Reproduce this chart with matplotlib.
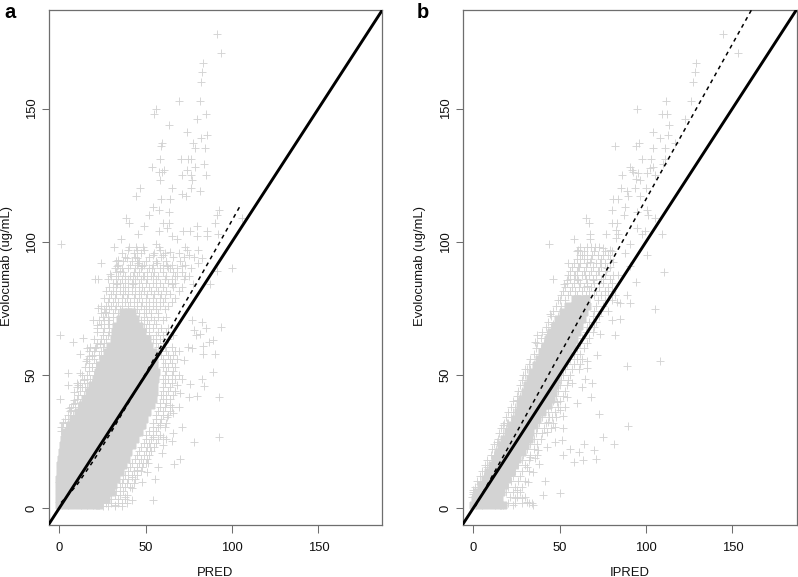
import matplotlib
matplotlib.use('Agg')
import matplotlib.pyplot as plt

plt.rcParams['font.family'] = ['Liberation Sans', 'DejaVu Sans']

ticks = [0, 50, 100, 150]
identity = [-10, 200]

# dashed smooth lines
dash_a_x = [1, 10, 20, 30, 40, 50, 60, 70, 80, 90, 105]
dash_a_y = [2, 8.5, 18, 28.5, 39.5, 50.5, 62, 74, 85, 96.5, 113.8]
dash_b_x = [1, 20, 43.5, 70, 100, 130, 161]
dash_b_y = [0.5, 22.5, 50, 81, 116, 151, 187]

# dense centre of each cloud: one row per y level
core_a_y = [1, 3.5, 6, 8.5, 11, 13.5, 16, 18.5, 21, 23.5, 26, 28.5, 31, 33.5, 36, 38.5, 41, 43.5, 46, 48.5, 51, 53.5, 56, 58.5, 61, 63.5, 66, 68.5, 71, 73.5]
core_a_x = [
    [0, 3.5, 7, 10.5, 14, 17.5, 21, 23],
    [0, 3.5, 7, 10.5, 14, 17.5, 21, 24.5, 27],
    [0, 3.5, 7, 10.5, 14, 17.5, 21, 24.5, 28, 30],
    [0, 3.5, 7, 10.5, 14, 17.5, 21, 24.5, 28, 31],
    [0, 3.5, 7, 10.5, 14, 17.5, 21, 24.5, 28, 31, 33],
    [0.3, 3.5, 7, 10.5, 14, 17.5, 21, 24.5, 28, 31.5, 35],
    [0.5, 4, 7.5, 11, 14.5, 18, 21.5, 25, 28.5, 32, 35.5, 37],
    [1, 4.5, 8, 11.5, 15, 18.5, 22, 25.5, 29, 32.5, 36, 38.5],
    [1.5, 5, 8.5, 12, 15.5, 19, 22.5, 26, 29.5, 33, 36.5, 40],
    [2, 5.5, 9, 12.5, 16, 19.5, 23, 26.5, 30, 33.5, 37, 40.5, 42],
    [2.5, 6, 9.5, 13, 16.5, 20, 23.5, 27, 30.5, 34, 37.5, 41, 44],
    [3.5, 7, 10, 13.5, 17, 20.5, 24, 27.5, 31, 34.5, 38, 41.5, 45, 46],
    [6, 8.5, 12, 15.5, 19, 22.5, 26, 29.5, 33, 36.5, 40, 43.5, 47, 48],
    [8, 10.5, 14, 17.5, 21, 24.5, 28, 31.5, 35, 38.5, 42, 45.5, 49],
    [11, 13.5, 17, 20.5, 24, 27.5, 31, 34.5, 38, 41.5, 45, 48.5, 51],
    [13, 15.5, 19, 22.5, 26, 29.5, 33, 36.5, 40, 43.5, 47, 50.5, 53],
    [15, 16.5, 20, 23.5, 27, 30.5, 34, 37.5, 41, 44.5, 48, 51.5, 54],
    [17, 18.5, 22, 25.5, 29, 32.5, 36, 39.5, 43, 46.5, 50, 53.5, 55],
    [19, 23, 26.5, 30, 33.5, 37, 40.5, 44, 47.5, 51, 54.5],
    [21, 25, 28.5, 32, 35.5, 39, 42.5, 46, 49.5, 53, 55.5],
    [22.5, 26, 29.5, 33, 36.5, 40, 43.5, 47, 50.5, 54, 56],
    [23.5, 27, 30.5, 34, 37.5, 41, 44.5, 48, 51.5, 55],
    [25.5, 29, 32.5, 36, 39.5, 43, 46.5, 50, 53.5, 55],
    [27.5, 31, 34.5, 38, 41.5, 45, 48.5, 52, 54],
    [29.5, 33, 36.5, 40, 43.5, 47, 50.5, 52],
    [31.5, 35, 38.5, 42, 45.5, 49, 50.5],
    [32, 36, 39.5, 43, 46.5, 48],
    [33, 37, 40.5, 44, 46],
    [35, 39, 42.5, 44],
    [37, 40, 42],
]
core_b_y = [1, 3.5, 6, 8.5, 11, 13.5, 16, 18.5, 21, 23.5, 26, 28.5, 31, 33.5, 36, 38.5, 41, 43.5, 46, 48.5, 51, 53.5, 56, 58.5, 61, 63.5, 66, 68.5, 71, 73.5, 76, 78.5]
core_b_x = [
    [0, 3.5, 7, 10.5, 14, 17],
    [1, 4.5, 8, 11.5, 15],
    [2, 5.5, 9, 12.5, 16],
    [4.5, 8, 11.5, 15, 17.5],
    [6.5, 10, 13.5, 17, 19.5],
    [8.5, 12, 15.5, 19, 21.5],
    [10.5, 14, 17.5, 21, 23.5],
    [12.5, 16, 19.5, 23, 25.5],
    [14, 17.5, 21, 24.5, 28],
    [16, 19.5, 23, 26.5, 30],
    [18, 21.5, 25, 28.5, 32],
    [20, 23.5, 27, 30.5, 33],
    [22, 25.5, 29, 32.5, 35],
    [24, 27.5, 31, 34.5, 37],
    [26, 29.5, 33, 36.5, 40],
    [27, 30.5, 34, 37.5, 41, 43],
    [28, 31.5, 35, 38.5, 42, 45],
    [30, 33.5, 37, 40.5, 44, 46],
    [31, 34.5, 38, 41.5, 45, 47],
    [33, 36.5, 40, 43.5, 47, 48],
    [34, 37.5, 41, 44.5, 48, 49],
    [36, 39.5, 43, 46.5, 50, 51],
    [38, 41.5, 45, 48.5, 52, 53],
    [40, 43.5, 47, 50.5, 54, 55],
    [41.5, 44.5, 48, 51.5, 55, 57],
    [43, 46.5, 50, 53.5, 57, 58],
    [45, 47.5, 51, 54.5, 58, 60],
    [47, 49.5, 53, 56.5, 60, 61],
    [49, 51.5, 55, 58.5, 62, 63],
    [52, 55, 58, 61, 64],
    [55, 58, 61, 64, 66],
    [59, 62, 65],
]

# thinner rows of crosses round the centre
fringe_a_y = [97, 95.6, 94.2, 92.8, 91.4, 90, 88.6, 87.2, 85.8, 84.4, 83, 81.6, 80.2, 78.8, 77.4, 76, 74.6, 73.2, 71.8, 70.4, 69, 67.6, 66.2, 64.8, 63.4, 62, 60.5, 59, 57.5, 56, 54.5, 53, 51.5, 50, 48.5, 47, 45.5, 44, 42.5, 41, 39.5, 38, 36.5, 35, 33.5, 32, 30.5, 29, 27.5, 26, 24.5, 23, 21.5, 20, 18.5, 17, 15.5, 14, 12.5, 11, 9.5, 8, 6.5, 5, 3.5, 2, 0.8]
fringe_a_x = [
    [40, 45, 49, 58, 74],
    [36, 43, 47, 55, 61, 69],
    [38, 44, 52, 59, 66, 72, 78],
    [33, 37, 42, 46, 50, 56, 62, 70],
    [34, 41, 45, 49, 54, 60, 65, 73],
    [32, 36, 40, 44, 47, 52, 58, 63, 68, 76],
    [33, 37, 43, 46, 51, 55, 60, 66, 71],
    [30, 34, 38, 41, 45, 49, 53, 57, 62, 68, 75],
    [28, 33, 36, 40, 44, 47, 51, 56, 61, 65, 72],
    [31, 35, 38, 42, 46, 50, 54, 58, 63, 67],
    [29, 33, 37, 40, 44, 48, 52, 56, 60, 66, 71],
    [27, 31, 35, 38, 42, 46, 49, 53, 57, 62, 69],
    [30, 33, 37, 40, 44, 47, 51, 55, 59, 64],
    [26, 29, 32, 36, 39, 43, 46, 50, 54, 58, 61, 67],
    [28, 31, 34, 38, 41, 45, 48, 52, 56, 60, 65],
    [24, 27, 30, 33, 36, 40, 43, 47, 50, 54, 58, 63],
    [26, 29, 32, 35, 45, 49, 52, 56, 61],
    [24, 27, 31, 34, 46, 50, 53, 57],
    [25, 28, 31, 49, 53, 57, 62],
    [23, 26, 29, 47, 51, 55, 60],
    [24, 28, 31, 49, 52, 56],
    [22, 26, 29, 50, 54, 59, 63],
    [22, 25, 29, 52, 57, 62],
    [25, 28, 52, 56, 60, 66],
    [20, 24, 27, 54, 58, 63],
    [22, 26, 52, 56, 60],
    [18, 21, 25, 29, 57, 61, 65],
    [17, 20, 24, 28, 58, 62, 67],
    [19, 23, 27, 59, 63, 66],
    [16, 20, 25, 60, 64, 68],
    [17, 21, 61, 65],
    [15, 19, 23, 60, 63, 67],
    [17, 21, 62, 66],
    [13, 16, 20, 61, 65, 69],
    [14, 18, 60, 63, 67],
    [12, 16, 19, 61, 65],
    [10, 15, 60, 64],
    [12, 16, 60, 63, 67],
    [11, 14, 59, 62, 66],
    [10, 13, 60, 64],
    [9, 12, 58, 62],
    [7, 11, 58, 61, 65],
    [6, 9, 57, 60, 64],
    [5, 8, 56, 60, 63],
    [3, 6, 56, 59],
    [2, 5, 54, 58, 62],
    [1.5, 4, 54, 57, 61],
    [1, 3, 52, 56],
    [50, 54, 58],
    [50, 53, 57, 62],
    [49, 52, 56],
    [47, 51, 55],
    [46, 50, 53],
    [45, 49, 52],
    [44, 47, 51],
    [42, 46, 50],
    [41, 45, 48],
    [40, 43, 47],
    [38, 42, 45],
    [37, 40, 44],
    [36, 39, 43],
    [35, 38, 41],
    [33, 37],
    [32, 35, 39],
    [30, 34, 38],
    [27, 30, 34, 39],
    [25, 28, 32, 36],
]
fringe_b_y = [98, 96.5, 95, 93.5, 92, 90.5, 89, 87.5, 86, 84.5, 83, 81.5, 80, 78, 76, 74, 72, 70, 68, 66, 64, 62, 60, 58, 56, 54, 52, 50, 48, 46, 44, 42, 40, 38, 36, 34, 32, 30, 28, 26, 24, 22, 20, 18, 16, 14, 12, 10, 8, 6, 4, 2]
fringe_b_x = [
    [62, 68, 73],
    [60, 64, 70, 76, 80],
    [62, 66, 72, 78],
    [60, 64, 68, 74, 79],
    [58, 62, 66, 71, 76],
    [57, 61, 65, 69, 74, 79],
    [56, 60, 64, 68, 73, 77],
    [55, 59, 63, 67, 71, 76, 81],
    [56, 60, 65, 69, 74, 79],
    [54, 58, 62, 66, 70, 75, 80],
    [53, 57, 61, 64, 68, 73, 78],
    [52, 56, 59, 63, 67, 71, 76, 80],
    [51, 55, 60, 65, 70, 74, 78, 82],
    [49, 53, 72, 76, 80],
    [48, 51, 71, 75],
    [46, 50, 70, 74, 78],
    [45, 49, 69, 73],
    [43, 47, 67, 71],
    [42, 45, 66, 70],
    [40, 43, 65, 69],
    [39, 42, 63, 67],
    [37, 41, 62, 66],
    [36, 39, 60, 64],
    [35, 38, 58, 62],
    [33, 36, 56, 60, 63],
    [32, 35, 54, 58, 62],
    [30, 33, 53, 57, 61],
    [29, 32, 52, 56],
    [28, 31, 51, 55],
    [27, 30, 50, 54],
    [26, 28, 49, 53],
    [25, 27, 48, 52],
    [23, 26, 46, 50],
    [22, 24, 45, 49, 53],
    [20, 23, 43, 47],
    [19, 22, 40, 44, 48],
    [18, 20, 38, 42, 46],
    [16, 19, 37, 41, 45],
    [15, 17, 36, 40],
    [14, 16, 35, 39],
    [12, 15, 33, 37],
    [11, 13, 31, 35],
    [10, 12, 29, 33, 37],
    [8, 11, 28, 32],
    [7, 9, 26, 30],
    [5, 8, 24, 28, 32],
    [4, 6, 23, 27],
    [2, 5, 22, 26, 30],
    [1, 3, 20, 24, 28],
    [-0.5, 1, 19, 23, 27],
    [-1, 21, 25, 30],
    [20, 24, 28, 32],
]

# single crosses outside the centre
scatter_a_x = [91.1, 93.8, 83, 82.4, 81.9, 69.3, 81.7, 56.2, 55, 84.7, 79.9, 63.7, 73.9, 85.3, 82.2, 77.2, 59.7, 58.9, 78.6, 84.4, 58.3, 70.5, 74.7, 76.3, 83.6, 78.6, 53.9, 60.4, 57.5, 59.7, 73.9, 71.2, 84.7, 76.3, 77, 58.1, 65, 46.5, 76.3, 81.7, 71, 73.3, 44.2, 58.9, 64.3, 54.4, 57.5, 92.5, 63.7, 51.7, 91.1, 38.4, 40.5, 106, 48.8, 60.2, 63.5, 90.2, 79.9, 57.5, 62.2, 71.8, 75.7, 85.7, 45.4, 92, 65, 79.5, 85.7, 68, 35.9, 1.2,
    31.9, 40.5, 44.4, 48.6, 56, 57.5, 72.8, 80.5, 64, 60.2, 75, 82.4, 45.1, 39, 54, 23.9, 34.2, 45.7, 70.8, 62.2, 56.4, 33.2, 47.7, 99.8, 91, 53.5, 64, 80.5, 29.3, 35.1, 20.7, 22.6, 48.6, 42.9, 54.4, 67, 72.8, 33.2, 42.9, 65, 87.3, 77.6,
    0.4, 7.7, 13.9, 12, 15.8, 20.7, 15.5, 18.8, 5.2, 12, 5.2, 11, 13, 0.4, 8.5, 8.5, 5.6, 2.3, 0.8, 7, 22.6, 26.4, 19.7, 22, 23.6, 17, 19, 10, 14, 8,
    93.4, 89.2, 86.9, 90.2, 89.2, 82.4, 83.8, 92.5, 79.9, 75.3, 92.7, 78, 69.9, 66.6, 54.4, 83.4, 83.4, 76.6, 74.7, 79.2, 81.5, 82.4, 84.7, 76.6, 77.8, 72.2, 69, 71, 68.1, 75.9, 70, 71.2, 66, 65.3, 60.2, 60.2, 59.3, 57.3, 51.5, 50.6, 55.4, 47.7, 41.9, 41.9, 38, 36, 32.2, 69, 64, 66, 62.2, 58.3, 54.4, 52.5, 48.6, 44.8, 41.9]
scatter_a_y = [177.9, 171, 167, 163.8, 159.8, 153, 153, 150, 148, 148, 146, 144, 141, 140, 139, 137, 137, 136, 135, 135, 131, 131, 131, 131, 129, 128, 128, 127, 126, 126, 127, 125, 125, 125, 123, 123, 120, 120, 120, 119, 118, 117, 117, 116, 116, 113, 112, 112, 111, 110, 110, 109, 107, 109, 106, 107, 107, 107, 106, 104, 105, 104, 104, 104, 103, 103, 102, 102, 102, 101, 101, 99,
    98, 98, 98, 98, 99, 98, 98, 97, 96, 95, 95, 94, 94, 94, 95, 92, 93, 92, 91, 91, 92, 91, 91, 90, 89, 90, 90, 92, 88, 89, 86, 86, 87, 87, 87, 87, 87, 84, 84, 84, 84, 84,
    65, 62.4, 64, 58, 60, 60, 55, 53, 50.5, 50.8, 46, 46, 45.5, 40.8, 43.6, 40.5, 37.4, 32.4, 30.5, 36.8, 75, 73.6, 70.5, 68.6, 61.7, 57, 57, 47, 48, 39,
    67.8, 63, 62.4, 58, 51, 48.6, 45.8, 41.8, 42, 41.8, 26.5, 24.8, 18.3, 16.5, 2.9, 61, 58, 60, 60.5, 65, 65.5, 70, 67.4, 70.5, 66.8, 55.5, 59, 48.6, 46, 46.4, 43, 30.5, 28, 25, 26.8, 23.6, 20.5, 15.5, 16.8, 13.6, 10.8, 9.9, 7.4, 3, 4.3, 1.8, 1.1, 38, 38.6, 35.5, 34, 31, 26.8, 23, 16.8, 14.3, 11.8]

scatter_b_x = [144.8, 153, 129, 128.2, 127, 126, 111.6, 95, 109, 112, 122.6, 113.5, 104.2, 112.5, 108, 116.8, 82.2, 95.8, 94.4, 103.9, 111.2, 97.5, 102.7, 111, 109.7, 90.7, 104.2, 102.3, 91.7, 92.7, 85.9, 95.6, 100.4, 105.2, 94.2, 96.5, 85.3, 93.6, 100, 88.8, 89.8, 96.5, 81, 84, 80, 88, 100.4, 95, 87.3, 101.2, 105.2, 65, 66.8, 80, 83, 67.6, 76.8, 94.6, 99.4, 109, 82.6, 84, 97.5, 58.5, 67.6, 82.6, 43.8, 90.7,
    60.8, 65.6, 70.4, 75.3, 79.2, 62.7, 68.5, 75.3, 87.8, 100.4, 55, 67.6, 73.4, 81, 90.7, 60.8, 72.4, 77.2, 110.4, 58, 64.7, 84, 46.3, 54, 60.8, 69.5, 75.3, 94.2, 52.5, 65.6,
    44.4, 35.7, 36.7, 42.5, 50.2, 46.3, 30.9, 30, 25, 19.3, 17.4, 13.5, 7.7, 3.9, 0, 0,
    105.2, 90.7, 88.8, 85, 83, 85, 80, 82, 73.4, 71.4, 108, 88.8, 65.6, 65.6, 68.5, 62.7, 57, 64.7, 68, 59.8, 54, 73, 52, 89.6, 74.9, 81.7, 64.3, 52, 47.3, 42.5, 51.5, 47.3, 42.5, 56, 69.9, 61, 51.7, 58.3, 63.7, 70.8, 38.2, 34.7, 30.9, 31.9, 41.7, 40.5, 50.2, 25, 24, 28, 33.8, 34.7, 30.9, 23.2, 17.4, 37.6, 35.7, 32.8, 48.3, 50.2, 45.4, 43.4]
scatter_b_y = [177.9, 171, 167, 163.8, 159.8, 153, 153, 150, 148, 148, 146, 144, 141, 140, 139, 137, 136, 137, 136, 135, 135, 131, 131, 131, 129, 128, 128, 127.5, 127, 126, 125, 125.7, 125.7, 125, 123.5, 123, 120, 120, 120, 119, 117, 117, 116, 116, 112, 113, 112, 111, 110, 110, 109, 109, 107, 107, 107, 103, 103, 105, 104, 103, 104.5, 103, 103, 101, 101, 101.5, 99, 99,
    97, 98, 98, 97.5, 97, 95, 95, 95, 95.6, 95, 92, 92.5, 92, 92.5, 91, 90.5, 89, 90, 88.7, 87.5, 87.5, 87.5, 86, 85.6, 85.6, 85.6, 86, 85, 84, 83.4,
    73, 62.4, 65, 65.5, 78, 69, 52, 50, 40.5, 31.8, 31, 24.9, 15.5, 9, 6.8, 5.3,
    74.9, 77, 80, 77, 77.4, 71, 70.5, 65, 65.5, 57.6, 55, 53.4, 55.3, 52.4, 46.8, 45.5, 46.8, 48.6, 41.5, 39.3, 41.8, 35.3, 34.5, 30.8, 26.5, 24, 24, 29.9, 30.5, 28.6, 25.5, 24.9, 23, 22.3, 21.8, 20.9, 20, 17.4, 18, 18.3, 16.5, 13.6, 15.5, 9.9, 10, 4.9, 5.8, 6.8, 3.6, 3.6, 1.8, 1, 2.4, 1.1, 1.1, 21.8, 18.6, 19.3, 39.9, 36.8, 34.3, 32.4]

panel_letters = ['a', 'b']
x_labels = ['PRED', 'IPRED']
y_label = 'Evolocumab (ug/mL)'

W, H = 798, 577
fig = plt.figure(figsize=(W / 100, H / 100), dpi=100)
grey = 'lightgray'
frame = '#6e6e6e'
fs = 9.4


def draw(left, letter, letter_x, ylab_x, core_x, core_y, fr_x, fr_y, sc_x, sc_y, dx, dy, xlab):
    ax = fig.add_axes([left / W, 1 - 525 / H, 334 / W, 515 / H])
    for y, xs in zip(core_y, core_x):
        ax.plot(xs, [y] * len(xs), ls='none', marker='+', ms=5.6, mew=5, color=grey, zorder=1)
    for y, xs in zip(fr_y, fr_x):
        ax.plot(xs, [y] * len(xs), ls='none', marker='+', ms=5.3, mew=0.65, color=grey, zorder=2)
    ax.plot(sc_x, sc_y, ls='none', marker='+', ms=5.3, mew=0.65, color=grey, zorder=2)
    ax.plot(dx, dy, color='black', lw=1.1, dashes=(2.6, 2.6), zorder=3)
    ax.plot(identity, identity, color='black', lw=2.1, zorder=4)
    ax.set_xlim(-6.3, 187.1)
    ax.set_ylim(-6.4, 187)
    ax.set_xticks(ticks)
    ax.set_yticks(ticks)
    ax.tick_params(length=5.4, width=0.75, color=frame, labelsize=fs, labelcolor='#111111')
    ax.tick_params(axis='x', pad=6.5)
    ax.tick_params(axis='y', pad=2.3)
    for t in ax.get_yticklabels():
        t.set_rotation(90)
        t.set_va('center')
    for s in ax.spines.values():
        s.set_color(frame)
        s.set_linewidth(0.9)
    fig.text((left + 167) / W, 1 - 572.5 / H, xlab, ha='center', va='center', fontsize=fs, color='#111111')
    fig.text(ylab_x / W, 1 - 266 / H, y_label, rotation=90, ha='center', va='center', fontsize=fs, color='#111111')
    fig.text(letter_x / W, 1 - 13 / H, letter, ha='left', va='center', fontsize=14.5, fontweight='bold')


draw(48.5, panel_letters[0], 4, 7, core_a_x, core_a_y, fringe_a_x, fringe_a_y, scatter_a_x, scatter_a_y, dash_a_x, dash_a_y, x_labels[0])
draw(462.5, panel_letters[1], 417, 420.5, core_b_x, core_b_y, fringe_b_x, fringe_b_y, scatter_b_x, scatter_b_y, dash_b_x, dash_b_y, x_labels[1])

fig.savefig('out.png', dpi=100)
